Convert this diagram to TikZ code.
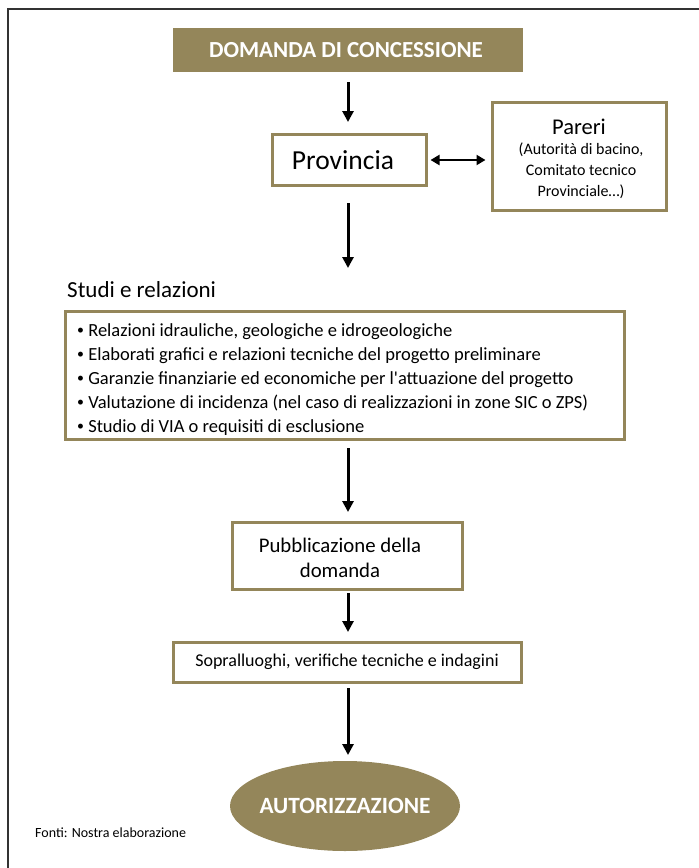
\documentclass[tikz,border=0pt]{standalone}
\usepackage{fontspec}
\setmainfont{Carlito}
\newfontfamily\nomap{Carlito}[Ligatures=ResetAll]
\usetikzlibrary{shapes.geometric,arrows.meta}
\definecolor{olive}{HTML}{94865A}
\newcommand{\bul}{\raisebox{0.15ex}{\scalebox{0.75}{•}}}
\begin{document}
\begin{tikzpicture}[x=1pt,y=-1pt,
  box/.style={draw=olive,line width=3pt,fill=white,inner sep=0pt,align=center},
  arr/.style={-{Triangle[length=11pt,width=11pt]},line width=3pt,black},
  darr/.style={{Triangle[length=9pt,width=10pt]}-{Triangle[length=9pt,width=10pt]},line width=2.6pt,black}]
\useasboundingbox (0,0) rectangle (699,868);
\draw[line width=1.5pt,black!80] (8,868) -- (8,9) -- (699,9);
% Domanda
\node[fill=olive,minimum width=350pt,minimum height=44pt,inner sep=0pt] (dom) at (348,50) {};
\node[text=white,font=\bfseries\fontsize{23}{27}\selectfont,inner sep=0pt] (domT) at (346,50) {DOMANDA DI CONCESSIONE};
% Provincia
\node[box,minimum width=154pt,minimum height=51pt] (prov) at (349,160) {};
\node[font=\fontsize{27.5}{30}\selectfont,inner sep=0pt] (provT) at (343,160) {Provincia};
% Pareri
\node[box,minimum width=174pt,minimum height=108pt] (par) at (579,156) {};
\node[font=\fontsize{22.5}{26}\selectfont] (parT) at (579,127) {Pareri};
\node[font=\fontsize{16}{21}\selectfont,align=center] (parS) at (581,171) {(Autorità di bacino,\\Comitato tecnico\\Provinciale…)};
% Studi
\node[anchor=west,font=\fontsize{23}{26}\selectfont,inner sep=0pt] (stL) at (67,290) {Studi e relazioni};
\node[box,minimum width=559pt,minimum height=128pt] (st) at (344.5,375) {};
\node[anchor=north west,font=\fontsize{18.5}{24}\selectfont,align=left,inner sep=0pt] (stT) at (77,323) {\bul{} Relazioni idrauliche, geologiche e idrogeologiche\\
\bul{} Elaborati grafici e relazioni tecniche del progetto preliminare\\
\bul{} Garanzie finanziarie ed economiche per l{\nomap'}attuazione del progetto\\
\bul{} Valutazione di incidenza (nel caso di realizzazioni in zone SIC o ZPS)\\
\bul{} Studio di VIA o requisiti di esclusione};
% Pubblicazione
\node[box,minimum width=230pt,minimum height=67pt] (pub) at (347,555.5) {};
\node[font=\fontsize{20.8}{25}\selectfont,align=center,inner sep=0pt] (pubT) at (340,558) {Pubblicazione della\\domanda};
% Sopralluoghi
\node[box,minimum width=348pt,minimum height=40pt,font=\fontsize{18}{20}\selectfont] (sop) at (347,662) {Sopralluoghi, verifiche tecniche e indagini};
% Autorizzazione
\node[ellipse,fill=olive,minimum width=230pt,minimum height=90pt,inner xsep=-20pt,inner ysep=0pt,text=white,font=\bfseries\fontsize{23.3}{27}\selectfont] (aut) at (345,806) {AUTORIZZAZIONE};
% Fonti
\node[anchor=west,font=\fontsize{14}{16}\selectfont,inner sep=0pt] (fonti) at (35,833) {Fonti: Nostra elaborazione};
% arrows
\coordinate (a1s) at (348,82); \coordinate (a1e) at (348,122);
\draw[arr] (a1s) -- (a1e);
\coordinate (a2s) at (348,203); \coordinate (a2e) at (348,268);
\draw[arr] (a2s) -- (a2e);
\coordinate (a3s) at (348,448); \coordinate (a3e) at (348,512);
\draw[arr] (a3s) -- (a3e);
\coordinate (a4s) at (348,593); \coordinate (a4e) at (348,632);
\draw[arr] (a4s) -- (a4e);
\coordinate (a5s) at (348,688); \coordinate (a5e) at (348,755);
\draw[arr] (a5s) -- (a5e);
\draw[darr] ([xshift=3pt]prov.east) -- ([xshift=-5pt]par.west |- prov.east);
\end{tikzpicture}
\end{document}
